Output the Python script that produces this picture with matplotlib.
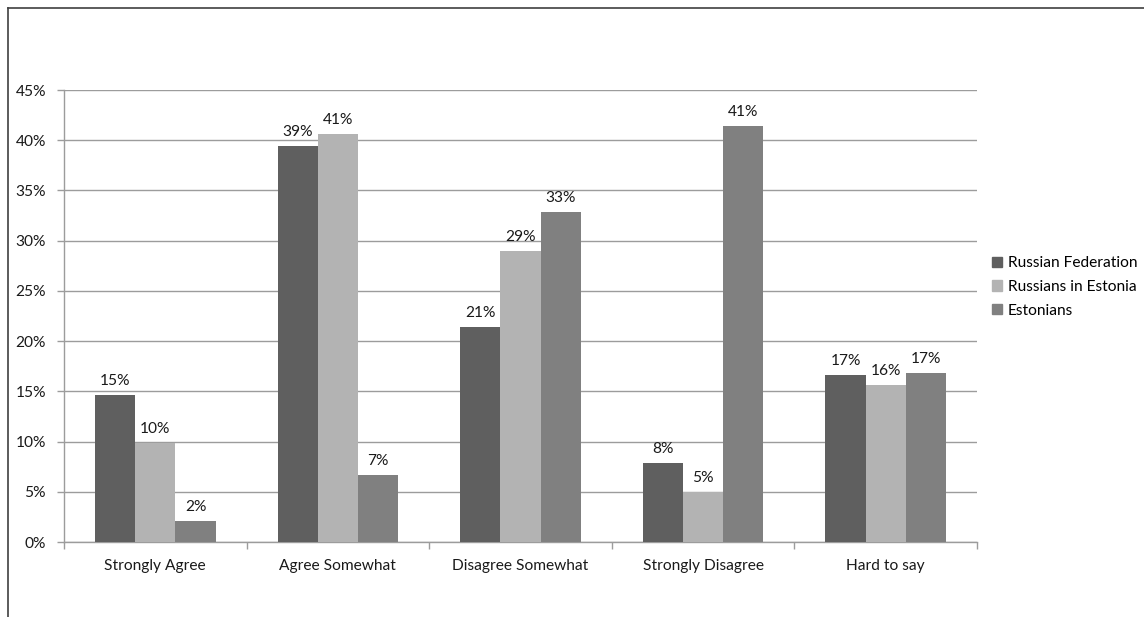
import matplotlib
matplotlib.use("Agg")
import matplotlib.pyplot as plt
from matplotlib.lines import Line2D
from matplotlib.ticker import FuncFormatter
import numpy as np

plt.rcParams['font.family'] = ['Lato', 'DejaVu Sans']

categories = ["Strongly Agree", "Agree Somewhat", "Disagree Somewhat",
              "Strongly Disagree", "Hard to say"]
series_names = ["Russian Federation", "Russians in Estonia", "Estonians"]
russian_federation = [14.6, 39.4, 21.4, 7.9, 16.6]
russians_in_estonia = [9.9, 40.6, 29.0, 5.0, 15.6]
estonians = [2.1, 6.7, 32.9, 41.4, 16.8]
y_ticks = [0, 5, 10, 15, 20, 25, 30, 35, 40, 45]

series_values = [russian_federation, russians_in_estonia, estonians]
colors = ["#5f5f5f", "#b3b3b3", "#808080"]
FS = 11.2

W, H = 1144, 617
fig = plt.figure(figsize=(W / 100, H / 100), dpi=100)
ax = fig.add_axes([64 / W, 1 - 542 / H, (977 - 64) / W, (542 - 90) / H])

x = np.arange(len(categories))
bar_w = 0.22
for i, (vals, col, name) in enumerate(zip(series_values, colors, series_names)):
    pos = x + (i - 1) * bar_w
    bars = ax.bar(pos, vals, width=bar_w, color=col, label=name, zorder=3,
                  edgecolor='none')
    for b, v in zip(bars, vals):
        ax.annotate(f"{v:.0f}%", (b.get_x() + b.get_width() / 2, v),
                    xytext=(0, 5), textcoords='offset points',
                    ha='center', va='bottom', fontsize=FS, color='#1a1a1a')

ax.set_xlim(-0.5, len(categories) - 0.5)
ax.set_ylim(0, 45)
ax.set_yticks(y_ticks)
ax.yaxis.set_major_formatter(FuncFormatter(lambda v, p: f"{v:.0f}%"))
ax.yaxis.grid(True, color='#9c9c9c', linewidth=1.0, zorder=0)
ax.set_axisbelow(True)

ax.set_xticks(x)
ax.set_xticklabels(categories, fontsize=FS, color='#1a1a1a')
ax.tick_params(axis='x', which='major', length=0, pad=12)
ax.set_xticks(np.arange(-0.5, len(categories)), minor=True)
ax.tick_params(axis='x', which='minor', length=5, color='#9c9c9c', width=1.0)
ax.tick_params(axis='y', length=5, color='#9c9c9c', width=1.0, labelsize=FS,
               labelcolor='#1a1a1a', pad=8)

for s in ['top', 'right']:
    ax.spines[s].set_visible(False)
for s in ['left', 'bottom']:
    ax.spines[s].set_color('#9c9c9c')
    ax.spines[s].set_linewidth(1.0)

handles = [plt.Rectangle((0, 0), 1, 1, color=c) for c in colors]
fig.legend(handles, series_names, loc='center left',
           bbox_to_anchor=(992 / W, 1 - 287 / H), frameon=False,
           fontsize=FS, handlelength=0.65, handleheight=0.65,
           handletextpad=0.35, labelspacing=0.62, borderpad=0, borderaxespad=0)

# outer frame on the top and left edges
fig.add_artist(Line2D([7.5 / W, 1.0], [1 - 7.5 / H, 1 - 7.5 / H],
                      transform=fig.transFigure, color='#404040', linewidth=1.2))
fig.add_artist(Line2D([7.5 / W, 7.5 / W], [0.0, 1 - 7.5 / H],
                      transform=fig.transFigure, color='#404040', linewidth=1.2))

fig.savefig("out.png", dpi=100, facecolor='white')
